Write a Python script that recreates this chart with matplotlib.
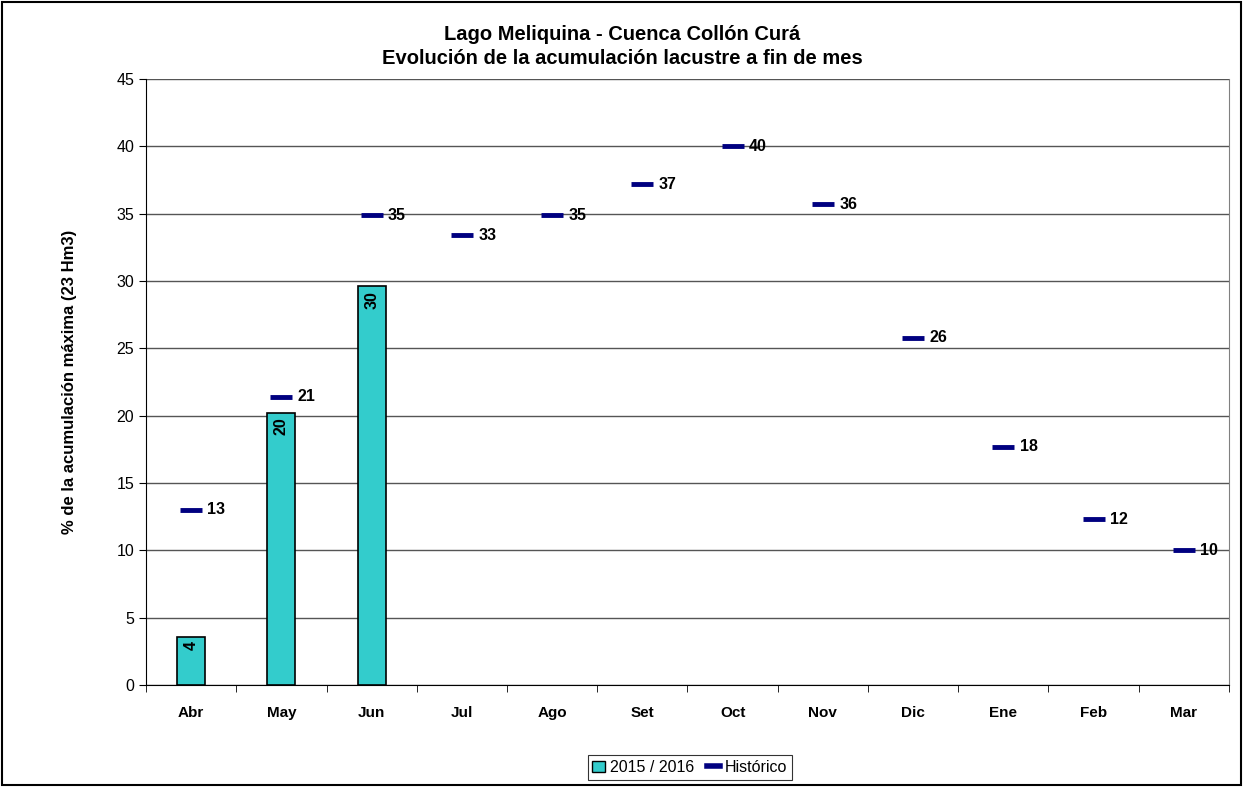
import numpy as np
import matplotlib.pyplot as plt
from matplotlib.lines import Line2D
from matplotlib.patches import Patch

plt.rcParams['font.family'] = ['Liberation Sans', 'DejaVu Sans']

meses = ['Abr', 'May', 'Jun', 'Jul', 'Ago', 'Set', 'Oct', 'Nov', 'Dic', 'Ene', 'Feb', 'Mar']
actual = [3.6, 20.2, 29.6]          # 2015 / 2016
historico = [13.0, 21.4, 34.9, 33.4, 34.9, 37.2, 40.0, 35.7, 25.8, 17.7, 12.3, 10.0]

fig = plt.figure(figsize=(12.45, 7.87), dpi=100)
ax = fig.add_axes([0.1173, 0.1296, 0.8698, 0.77])

x = np.arange(len(meses))
bars = ax.bar(x[:len(actual)], actual, width=0.31, color='#33CCCC',
              edgecolor='black', linewidth=1.2, zorder=3)
for b, v in zip(bars, actual):
    ax.text(b.get_x() + b.get_width() / 2, v - 0.35, '{:.0f}'.format(v),
            rotation=90, ha='center', va='top', fontsize=11.5, fontweight='bold', zorder=4)

ax.plot(x, historico, linestyle='none', marker='_', markersize=16,
        markeredgewidth=3.5, color='#000080', zorder=5)
for xi, v in zip(x, historico):
    ax.text(xi + 0.18, v, '{:.0f}'.format(v), ha='left', va='center',
            fontsize=11.5, fontweight='bold', zorder=6)

ax.set_xlim(-0.5, len(meses) - 0.5)
ax.set_ylim(0, 45)
ax.set_yticks(range(0, 46, 5))
ax.set_xticks(x)
ax.set_xticklabels(meses, fontsize=11, fontweight='bold')
ax.set_xticks(np.arange(-0.5, len(meses), 1), minor=True)
ax.tick_params(axis='x', which='major', length=0, pad=15)
ax.tick_params(axis='x', which='minor', length=5, direction='out')
ax.tick_params(axis='y', labelsize=11.5, length=5, direction='out')
ax.yaxis.grid(True, color='#555555', linewidth=1.0, zorder=0)
ax.set_axisbelow(True)
ax.spines['top'].set_visible(False)
ax.spines['right'].set_color('#808080')
ax.spines['left'].set_color('black')
ax.spines['bottom'].set_color('black')

ax.set_ylabel('% de la acumulación máxima (23 Hm3)', fontsize=12, fontweight='bold', labelpad=28)
fig.text(0.5, 0.956, 'Lago Meliquina - Cuenca Collón Curá', ha='center', va='center',
         fontsize=14.5, fontweight='bold')
fig.text(0.5, 0.926, 'Evolución de la acumulación lacustre a fin de mes', ha='center',
         va='center', fontsize=14.5, fontweight='bold')

handles = [Patch(facecolor='#33CCCC', edgecolor='black', label='2015 / 2016'),
           Line2D([], [], color='#000080', linewidth=4, label='Histórico')]
leg = fig.legend(handles=handles, loc='center', bbox_to_anchor=(0.554, 0.025), ncol=2,
                 frameon=True, fancybox=False, fontsize=11.5, handlelength=0.8,
                 handletextpad=0.3, columnspacing=0.8, borderpad=0.3)
leg.get_frame().set_edgecolor('black')
leg.get_frame().set_linewidth(0.8)

fig.patches.append(plt.Rectangle((0.002, 0.002), 0.995, 0.995, transform=fig.transFigure,
                                 fill=False, edgecolor='black', linewidth=1.5))

fig.savefig('out.png', dpi=100)
